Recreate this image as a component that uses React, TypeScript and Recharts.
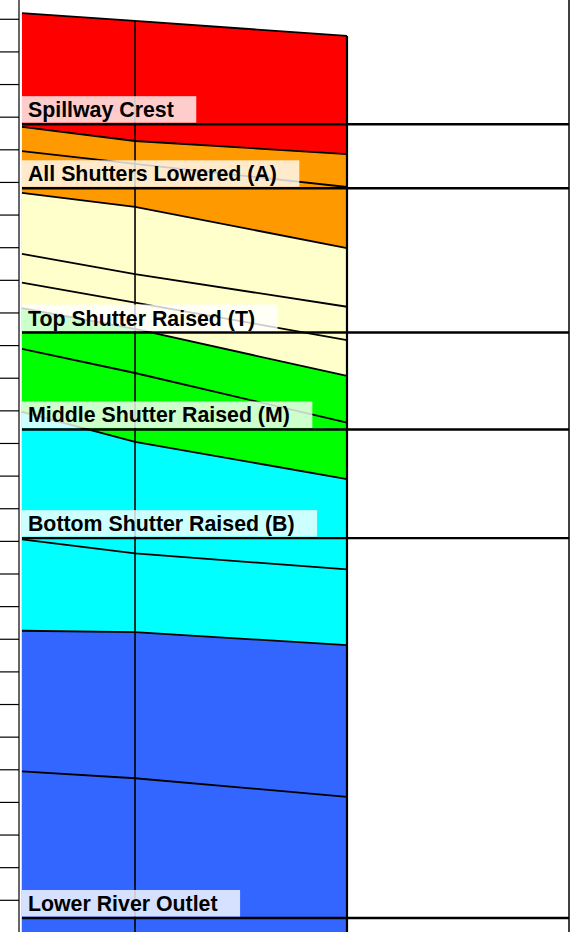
import React from "react";
import { ComposedChart, Area, XAxis, YAxis, ReferenceLine } from "recharts";

// x positions of the three profile stations
const X_VALUES = [0, 8, 23];

// boundary levels (top to bottom) at each station
const redTop = [27.19, 26.95, 26.49];
const redOrange = [23.7, 23.27, 22.87];
const orangeMid = [22.96, 22.57, 21.86];
const orangeYellow = [21.68, 21.25, 19.99];
const yellowMid1 = [19.81, 19.19, 18.19];
const yellowMid2 = [18.93, 18.32, 17.17];
const yellowGreen = [18.15, 17.51, 16.07];
const greenMid = [16.9, 16.16, 14.64];
const greenCyan = [14.97, 14.05, 12.91];
const cyanMid = [11.06, 10.63, 10.14];
const cyanBlue = [8.26, 8.22, 7.82];
const blueMid = [3.95, 3.74, 3.17];

// reference levels
const LEVEL_NAMES = [
  "Spillway Crest",
  "All Shutters Lowered (A)",
  "Top Shutter Raised (T)",
  "Middle Shutter Raised (M)",
  "Bottom Shutter Raised (B)",
  "Lower River Outlet",
];
const LEVEL_VALUES = [23.785, 21.82, 17.4, 14.43, 11.1, -0.542];

// axis ranges and ticks
const X_DOMAIN: [number, number] = [-0.21, 38.71];
const Y_DOMAIN: [number, number] = [-0.9715, 27.591];
const Y_TICKS = Array.from({ length: 28 }, (_, i) => i);

const SERIES: { key: string; values: number[]; fill: string }[] = [
  { key: "redTop", values: redTop, fill: "#FF0000" },
  { key: "redOrange", values: redOrange, fill: "#FF9900" },
  { key: "orangeMid", values: orangeMid, fill: "#FF9900" },
  { key: "orangeYellow", values: orangeYellow, fill: "#FFFFCC" },
  { key: "yellowMid1", values: yellowMid1, fill: "#FFFFCC" },
  { key: "yellowMid2", values: yellowMid2, fill: "#FFFFCC" },
  { key: "yellowGreen", values: yellowGreen, fill: "#00FF00" },
  { key: "greenMid", values: greenMid, fill: "#00FF00" },
  { key: "greenCyan", values: greenCyan, fill: "#00FFFF" },
  { key: "cyanMid", values: cyanMid, fill: "#00FFFF" },
  { key: "cyanBlue", values: cyanBlue, fill: "#3366FF" },
  { key: "blueMid", values: blueMid, fill: "#3366FF" },
];

const data = X_VALUES.map((x, i) => {
  const row: Record<string, number> = { x };
  SERIES.forEach((s) => {
    row[s.key] = s.values[i];
  });
  return row;
});

const FONT = '"Liberation Sans", Arial, sans-serif';
const FONT_SIZE = 21.33;

let ctx: CanvasRenderingContext2D | null = null;
function measure(text: string): number {
  if (!ctx) {
    const c = document.createElement("canvas");
    ctx = c.getContext("2d");
  }
  if (!ctx) return text.length * 11;
  ctx.font = `bold ${FONT_SIZE}px ${FONT}`;
  return ctx.measureText(text).width;
}

const makeLabel = (text: string) => (props: any) => {
  const vb = props.viewBox || {};
  const x = vb.x ?? 0;
  const y = vb.y ?? 0;
  const w = measure(text) + 28.5;
  return (
    <g>
      <rect x={x} y={y - 28} width={w} height={26.5} fill="#FFFFFF" fillOpacity={0.8} />
      <text
        x={x + 6}
        y={y - 7}
        fontFamily={FONT}
        fontSize={FONT_SIZE}
        fontWeight="bold"
        fill="#000000"
      >
        {text}
      </text>
    </g>
  );
};

const EmptyTick = () => <g />;

export default function App() {
  return (
    <div
      style={{
        position: "fixed",
        left: 0,
        top: 0,
        width: 571,
        height: 932,
        overflow: "hidden",
        background: "#FFFFFF",
      }}
    >
      <ComposedChart
        width={571}
        height={932}
        data={data}
        margin={{ top: 0, right: 2, bottom: 0, left: 0 }}
      >
        <XAxis
          dataKey="x"
          type="number"
          domain={X_DOMAIN}
          allowDataOverflow
          hide
        />
        <YAxis
          type="number"
          domain={Y_DOMAIN}
          ticks={Y_TICKS}
          allowDataOverflow
          interval={0}
          width={19}
          tickSize={19}
          tick={EmptyTick}
          axisLine={{ stroke: "#000000", strokeWidth: 1.2 }}
          tickLine={{ stroke: "#000000", strokeWidth: 1.2 }}
        />
        {SERIES.map((s) => (
          <Area
            key={s.key}
            dataKey={s.key}
            type="linear"
            baseValue="dataMin"
            fill={s.fill}
            fillOpacity={1}
            stroke="#000000"
            strokeWidth={1.8}
            dot={false}
            activeDot={false}
            isAnimationActive={false}
          />
        ))}
        {X_VALUES.slice(1).map((x, i) => (
          <ReferenceLine
            key={"drop" + x}
            segment={[
              { x, y: redTop[i + 1] },
              { x, y: Y_DOMAIN[0] },
            ]}
            stroke="#000000"
            strokeWidth={i === X_VALUES.length - 2 ? 2.2 : 1.6}
            ifOverflow="visible"
          />
        ))}
        <ReferenceLine x={X_DOMAIN[1]} stroke="#000000" strokeWidth={1.5} ifOverflow="visible" />
        {LEVEL_VALUES.map((v, i) => (
          <ReferenceLine
            key={"lvl" + i}
            segment={[
              { x: 0, y: v },
              { x: X_DOMAIN[1], y: v },
            ]}
            stroke="#000000"
            strokeWidth={2.4}
            ifOverflow="visible"
            label={makeLabel(LEVEL_NAMES[i])}
          />
        ))}
      </ComposedChart>
    </div>
  );
}
